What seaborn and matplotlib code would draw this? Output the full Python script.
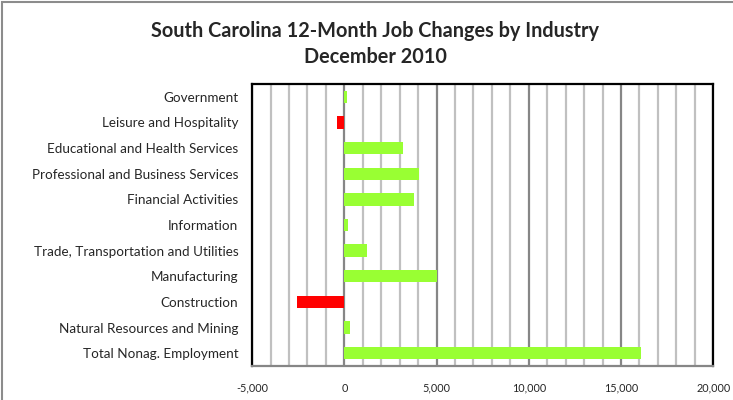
import matplotlib
matplotlib.use("Agg")
import matplotlib.pyplot as plt
import seaborn as sns
import pandas as pd
from matplotlib.ticker import MultipleLocator, FuncFormatter
from matplotlib.patches import Rectangle

categories = ["Government", "Leisure and Hospitality", "Educational and Health Services",
              "Professional and Business Services", "Financial Activities", "Information",
              "Trade, Transportation and Utilities", "Manufacturing", "Construction",
              "Natural Resources and Mining", "Total Nonag. Employment"]
values = [150, -400, 3200, 4050, 3800, 200, 1250, 5000, -2550, 300, 16100]
title = "South Carolina 12-Month Job Changes by Industry\nDecember 2010"

pos_color = "#99ff33"
neg_color = "#ff0000"
colors = [pos_color if v >= 0 else neg_color for v in values]

df = pd.DataFrame({"Industry": categories, "Change": values})

sns.set_style("white")
plt.rcParams["font.family"] = ["Lato", "DejaVu Sans"]

fig = plt.figure(figsize=(7.33, 4.0), dpi=100)
ax = fig.add_axes([0.344, 0.085, 0.629, 0.705])

sns.barplot(data=df, x="Change", y="Industry", hue="Industry", palette=colors,
            orient="h", width=0.48, legend=False, ax=ax, saturation=1, zorder=3,
            linewidth=0, edgecolor="none")

ax.set_xlim(-5000, 20000)
ax.set_ylim(10.5, -0.5)
ax.xaxis.set_major_locator(MultipleLocator(5000))
ax.xaxis.set_minor_locator(MultipleLocator(1000))
ax.xaxis.set_major_formatter(FuncFormatter(lambda v, p: f"{int(v):,}"))
ax.grid(True, axis="x", which="minor", color="#c0c0c0", linewidth=1.6, zorder=0)
ax.grid(True, axis="x", which="major", color="#868686", linewidth=1.6, zorder=0)
ax.set_axisbelow(True)
ax.set_xlabel("")
ax.set_ylabel("")
ax.tick_params(axis="x", which="major", length=4, color="#868686", width=1.2,
               labelsize=7.8, pad=8)
ax.tick_params(axis="x", which="minor", length=0)
ax.tick_params(axis="y", length=0, labelsize=9.7, pad=10)

for s in ["top", "left", "right"]:
    ax.spines[s].set_color("black")
    ax.spines[s].set_linewidth(1.6)
ax.spines["bottom"].set_color("#868686")
ax.spines["bottom"].set_linewidth(1.6)

fig.text(0.512, 0.89, title, ha="center", va="center", fontsize=14.3,
         fontweight="bold", linespacing=1.4)

fig.patches.append(Rectangle((0.003, -0.1), 1.2, 1.095, transform=fig.transFigure,
                             fill=False, edgecolor="#8c8c8c", linewidth=1.5))

fig.savefig("out.png", dpi=100)
